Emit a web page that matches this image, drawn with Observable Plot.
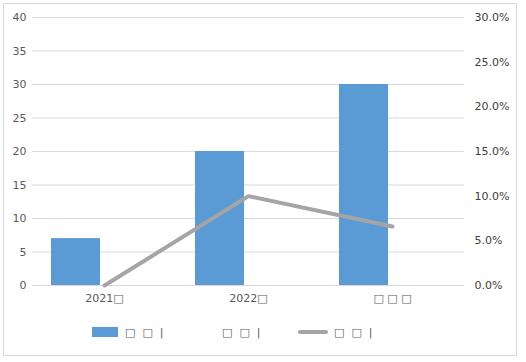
<!DOCTYPE html>
<html>
<head>
<meta charset="utf-8">
<script src="https://cdn.jsdelivr.net/npm/d3@7"></script>
<script src="https://cdn.jsdelivr.net/npm/@observablehq/plot@0.6"></script>
<style>
  html, body { margin: 0; padding: 0; background: #fff; }
  #wrap { position: relative; width: 526px; height: 362px; font-family: "DejaVu Sans", sans-serif; }
  #frame { position: absolute; left: 3px; top: 3px; width: 512px; height: 351px; border: 1px solid #d9d9d9; pointer-events: none; }
  #chart { position: absolute; left: 0; top: 0; }
  #legend { position: absolute; top: 324px; left: 0; width: 526px; height: 16px; font-size: 11px; color: #595959; }
  .item { position: absolute; top: 0; display: flex; align-items: center; height: 16px; white-space: pre; }
  .sw-bar { width: 26px; height: 10px; background: #5b9bd5; margin-right: 7px; }
  .sw-line { width: 30px; height: 4px; border-radius: 2px; background: #a5a5a5; margin-right: 6px; }
</style>
</head>
<body>
<div id="wrap">
  <div id="chart"></div>
  <div id="legend"></div>
  <div id="frame"></div>
</div>
<script>
const B = "\u25A1\uFE0E";
const categories = ["2021" + B, "2022" + B, B + " " + B + " " + B];
const barValues = [7, 20, 30];
const rateValues = [0.0, 0.10, 0.066];
const leftTicks = [0, 5, 10, 15, 20, 25, 30, 35, 40];
const rightTicks = [0, 0.05, 0.10, 0.15, 0.20, 0.25, 0.30];
const legendLabels = [B + "  " + B + "  |", B + "  " + B + "  |", B + "  " + B + "  |"];

const leftMax = 40, rightMax = 0.30;
const toLeft = r => r * leftMax / rightMax;

const rows = categories.map((c, i) => ({cat: c, value: barValues[i], rate: rateValues[i]}));

const chart = Plot.plot({
  width: 526,
  height: 310,
  marginLeft: 32,
  marginRight: 62,
  marginTop: 17,
  marginBottom: 25,
  style: {fontFamily: "'DejaVu Sans', sans-serif", fontSize: "11px", background: "transparent"},
  x: {domain: categories, padding: 0, label: null},
  y: {domain: [0, leftMax], label: null},
  marks: [
    Plot.gridY(leftTicks, {stroke: "#d9d9d9", strokeOpacity: 1, strokeWidth: 1}),
    Plot.barY(rows, {x: "cat", y: "value", fill: "#5b9bd5", insetLeft: 19, insetRight: 76}),
    Plot.ruleY([0], {stroke: "#d9d9d9", strokeWidth: 1}),
    Plot.lineY(rows, {x: "cat", y: d => toLeft(d.rate), stroke: "#a5a5a5", strokeWidth: 4, strokeLinecap: "round", strokeLinejoin: "round"}),
    Plot.axisY({ticks: leftTicks, anchor: "left", tickSize: 0, tickPadding: 6, fill: "#595959", label: null}),
    Plot.axisY({ticks: rightTicks.map(toLeft), anchor: "right", tickSize: 0, tickPadding: 10, fill: "#404040", label: null,
      tickFormat: v => (v * rightMax / leftMax * 100).toFixed(1) + "%", textAnchor: "start"}),
    Plot.axisX({tickSize: 0, tickPadding: 9, fill: "#595959", label: null})
  ]
});
document.getElementById("chart").appendChild(chart);

const legend = document.getElementById("legend");
const lefts = [92, 222, 298];
const kinds = ["bar", "none", "line"];
legendLabels.forEach((t, i) => {
  const it = document.createElement("div");
  it.className = "item";
  it.style.left = lefts[i] + "px";
  if (kinds[i] !== "none") {
    const sw = document.createElement("span");
    sw.className = kinds[i] === "bar" ? "sw-bar" : "sw-line";
    it.appendChild(sw);
  }
  const tx = document.createElement("span");
  tx.textContent = t;
  it.appendChild(tx);
  legend.appendChild(it);
});
</script>
</body>
</html>
